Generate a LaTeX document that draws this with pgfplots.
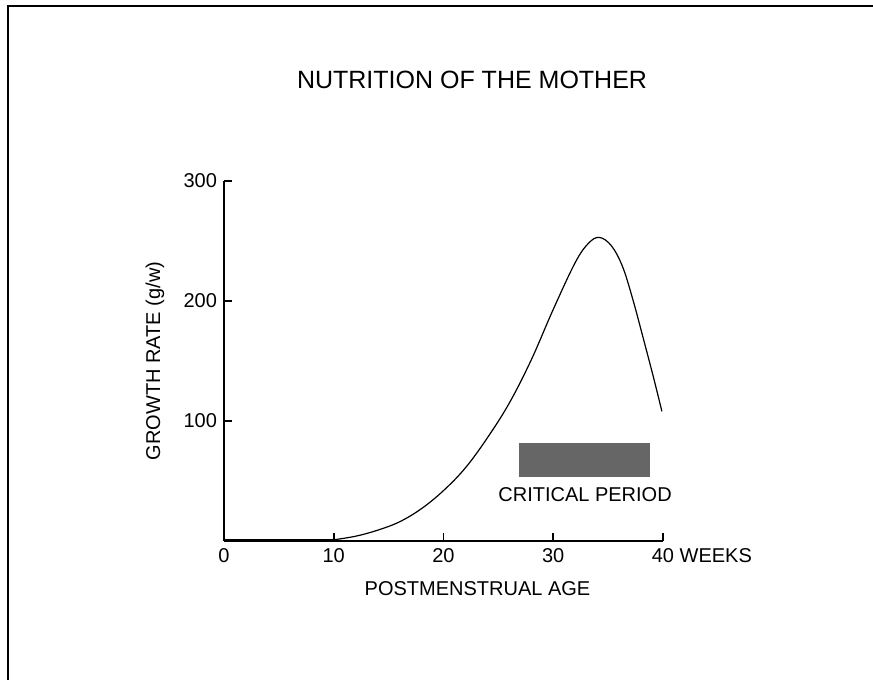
\documentclass[border=0pt]{standalone}
\usepackage{pgfplots}
\pgfplotsset{compat=1.18}
\usepackage{fontspec}
\setmainfont{Liberation Sans}

\begin{document}
\begin{tikzpicture}
% page is 873x680 px at 0.5pt per px
\path[use as bounding box] (0,0) rectangle (436.5pt,340pt);
\draw[line width=1.2pt] (4pt,0) -- (4pt,337pt) -- (436.5pt,337pt);

\begin{axis}[
    at={(112pt,69.5pt)}, anchor=south west,
    scale only axis, width=219.5pt, height=180pt,
    xmin=0, xmax=40, ymin=0, ymax=300,
    axis lines*=left, axis line style={line width=1pt},
    tick align=inside, major tick length=4pt,
    tick style={line width=0.8pt, black},
    xtick={0,10,20,30,40},
    xticklabels={0,10,20,30,{40\rlap{ WEEKS}}},
    ytick={100,200,300},
    /pgf/number format/assume math mode=true,
    tick label style={font=\fontsize{10}{12}\selectfont},
    clip=false,
]
% critical period bar
\addplot[draw=none, fill=black!60] coordinates {(26.9,53) (38.8,53) (38.8,82) (26.9,82)} -- cycle;

% flat part along the axis
\addplot[black, line width=1.4pt] coordinates {(0,0.6) (10,0.6)};

% growth rate curve
\addplot[black, line width=0.6pt, smooth, tension=0.6] coordinates {
    (10,1) (12,4) (14,9) (16,16) (18,27) (20,42) (22,61) (24,86)
    (26,115) (28,151) (30,193) (32,232) (33.2,248) (34.2,253)
    (35.3,246) (36.3,229) (37.2,203) (38.2,169) (39.2,134) (39.9,108)
};

\node[font=\fontsize{10}{12}\selectfont] at (axis cs:32.9,38.5) {CRITICAL PERIOD};
\node[font=\fontsize{12.5}{15}\selectfont] at (axis cs:22.6,384) {NUTRITION OF THE MOTHER};
\node[font=\fontsize{10}{12}\selectfont] at (axis cs:23.1,-40) {POSTMENSTRUAL AGE};
\node[font=\fontsize{10}{12}\selectfont, rotate=90] at (axis cs:-6.3,150) {GROWTH RATE (g/w)};
\end{axis}
\end{tikzpicture}
\end{document}
